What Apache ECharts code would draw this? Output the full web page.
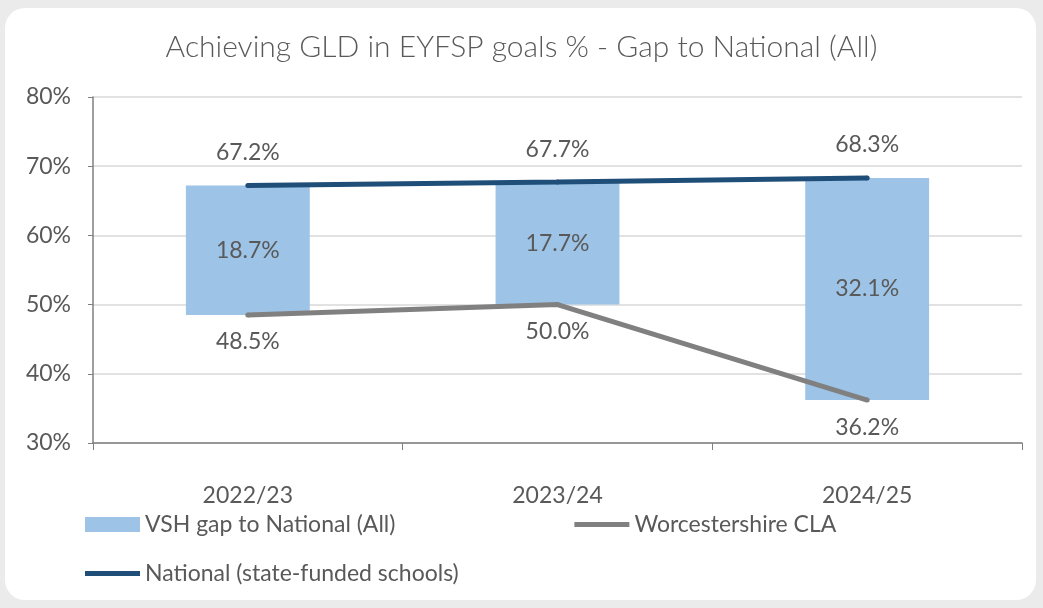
<!DOCTYPE html>
<html>
<head>
<meta charset="utf-8">
<script src="https://cdn.jsdelivr.net/npm/echarts@6/dist/echarts.min.js"></script>
<style>
  html, body { margin: 0; padding: 0; background: #ebebeb; }
  #card { position: absolute; left: 5px; top: 8px; width: 1031px; height: 592px; background: #fff; border-radius: 20px; }
  #main { position: absolute; left: 0; top: 0; width: 1043px; height: 608px; }
</style>
</head>
<body>
<div id="card"></div>
<div id="main"></div>
<script>
// 数据
const years = ['2022/23', '2023/24', '2024/25'];
const nationalVals = [67.2, 67.7, 68.3];
const claVals = [48.5, 50.0, 36.2];
const gapVals = [18.7, 17.7, 32.1];

const txt = '#595959';
const font = 'Lato';
const fs = 23;
// 图例里的粗线
const lineIcon = 'path://M0,0 L55,0 L55,5 L0,5 Z';

let myChart = echarts.init(document.getElementById('main'));

let option = {
    title: {
        text: 'Achieving GLD in EYFSP goals % - Gap to National (All)',
        left: 'center',
        top: 27,
        textStyle: { color: txt, fontSize: 30, fontWeight: 300, fontFamily: font }
    },
    legend: [
        {
            data: [
                { name: 'VSH gap to National (All)', icon: 'rect' },
                { name: 'Worcestershire CLA', icon: lineIcon }
            ],
            left: 80, top: 508,
            itemWidth: 55, itemHeight: 15, itemGap: 179,
            textStyle: { color: txt, fontSize: fs, fontFamily: font }
        },
        {
            data: [{ name: 'National (state-funded schools)', icon: lineIcon }],
            left: 80, top: 557,
            itemWidth: 55, itemHeight: 15,
            textStyle: { color: txt, fontSize: fs, fontFamily: font }
        }
    ],
    grid: { left: 93, right: 21, top: 97, bottom: 165, containLabel: false },
    xAxis: {
        type: 'category',
        data: years,
        axisLine: { lineStyle: { color: '#7f7f7f', width: 1.5 } },
        axisTick: { show: true, length: 7, lineStyle: { color: '#7f7f7f' } },
        axisLabel: { color: txt, fontSize: fs, fontFamily: font, margin: 41 }
    },
    yAxis: {
        type: 'value',
        min: 30, max: 80, interval: 10,
        axisLine: { show: true, lineStyle: { color: '#7f7f7f', width: 1.5 } },
        axisTick: { show: true, length: 5, lineStyle: { color: '#7f7f7f' } },
        axisLabel: { color: txt, fontSize: fs, fontFamily: font, margin: 22, formatter: '{value}%' },
        splitLine: { lineStyle: { color: '#d9d9d9', width: 1.5 } }
    },
    series: [
        {
            name: 'base',
            type: 'bar',
            stack: 'gap',
            data: claVals,
            barWidth: '40%',
            itemStyle: { color: 'transparent' },
            silent: true
        },
        {
            name: 'VSH gap to National (All)',
            type: 'bar',
            stack: 'gap',
            data: gapVals,
            barWidth: '40%',
            itemStyle: { color: '#9dc3e6' },
            label: {
                show: true, position: 'inside',
                color: txt, fontSize: fs, fontFamily: font,
                formatter: p => p.value.toFixed(1) + '%'
            }
        },
        {
            name: 'Worcestershire CLA',
            type: 'line',
            data: claVals,
            symbol: 'circle',
            symbolSize: 5,
            showSymbol: true,
            lineStyle: { color: '#808080', width: 5 },
            itemStyle: { color: '#808080' },
            label: {
                show: true, position: 'bottom', distance: 13,
                color: txt, fontSize: fs, fontFamily: font,
                formatter: p => p.value.toFixed(1) + '%'
            },
            labelLayout: { hideOverlap: false },
            z: 3
        },
        {
            name: 'National (state-funded schools)',
            type: 'line',
            data: nationalVals,
            symbol: 'circle',
            symbolSize: 5,
            showSymbol: true,
            lineStyle: { color: '#1f4e79', width: 5 },
            itemStyle: { color: '#1f4e79' },
            label: {
                show: true, position: 'top', distance: 19,
                color: txt, fontSize: fs, fontFamily: font,
                formatter: p => p.value.toFixed(1) + '%'
            },
            labelLayout: { hideOverlap: false },
            z: 3
        }
    ]
};

myChart.setOption(option);
</script>
</body>
</html>
